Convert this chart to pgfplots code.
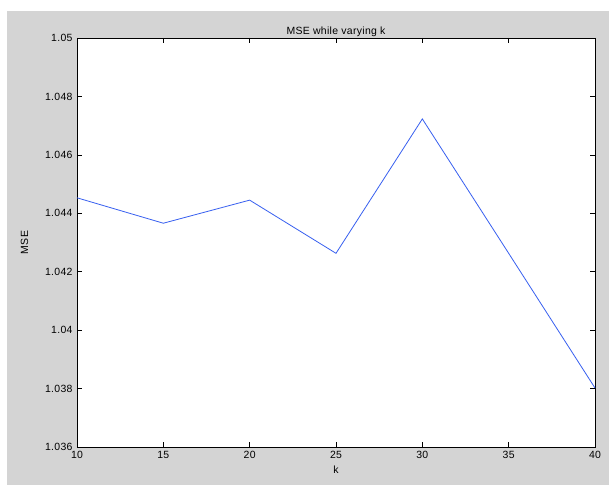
\documentclass[border=0pt]{standalone}
\usepackage{fontspec}
\setmainfont{Liberation Sans}[LetterSpace=3]
\usepackage{pgfplots}
\pgfplotsset{compat=1.18}
\definecolor{bggray}{RGB}{212,212,212}
\definecolor{mlblue}{RGB}{55,95,240}
\begin{document}
\begin{tikzpicture}[x=1bp,y=1bp]
\path[use as bounding box] (-77bp,-38bp) rectangle (532bp,447bp);
\fill[white] (-77bp,-38bp) rectangle (532bp,447bp);
\fill[bggray] (-70bp,-38bp) rectangle (532bp,436bp);
\begin{axis}[
  at={(0,0)}, anchor=south west,
  scale only axis,
  width=518bp, height=409bp,
  xmin=10, xmax=40, ymin=1.036, ymax=1.05,
  xtick={10,15,20,25,30,35,40},
  ytick={1.036,1.038,1.04,1.042,1.044,1.046,1.048,1.05},
  yticklabels={1.036,1.038,1.04,1.042,1.044,1.046,1.048,1.05},
  /pgf/number format/assume math mode=true,
  tick align=inside,
  major tick length=5bp,
  tick style={black, line width=0.6pt},
  axis line style={black, line width=0.7pt},
  axis background/.style={fill=white},
  ticklabel style={font=\fontsize{10.5}{12}\selectfont},
  xticklabel style={yshift=-1bp},
  yticklabel style={xshift=-1bp},
  title={MSE while varying k},
  title style={font=\fontsize{10.5}{12}\selectfont, yshift=-8bp},
  xlabel={k},
  ylabel={MSE},
  label style={font=\fontsize{10.5}{12}\selectfont},
  xlabel style={yshift=0bp},
  ylabel style={yshift=10bp},
  clip=false,
]
\addplot[mlblue, line width=0.8pt, mark=none] coordinates {
  (10,1.04453) (15,1.04366) (20,1.04445) (25,1.04263) (30,1.04723) (35,1.04263) (40,1.03802)
};
\end{axis}
\end{tikzpicture}
\end{document}
